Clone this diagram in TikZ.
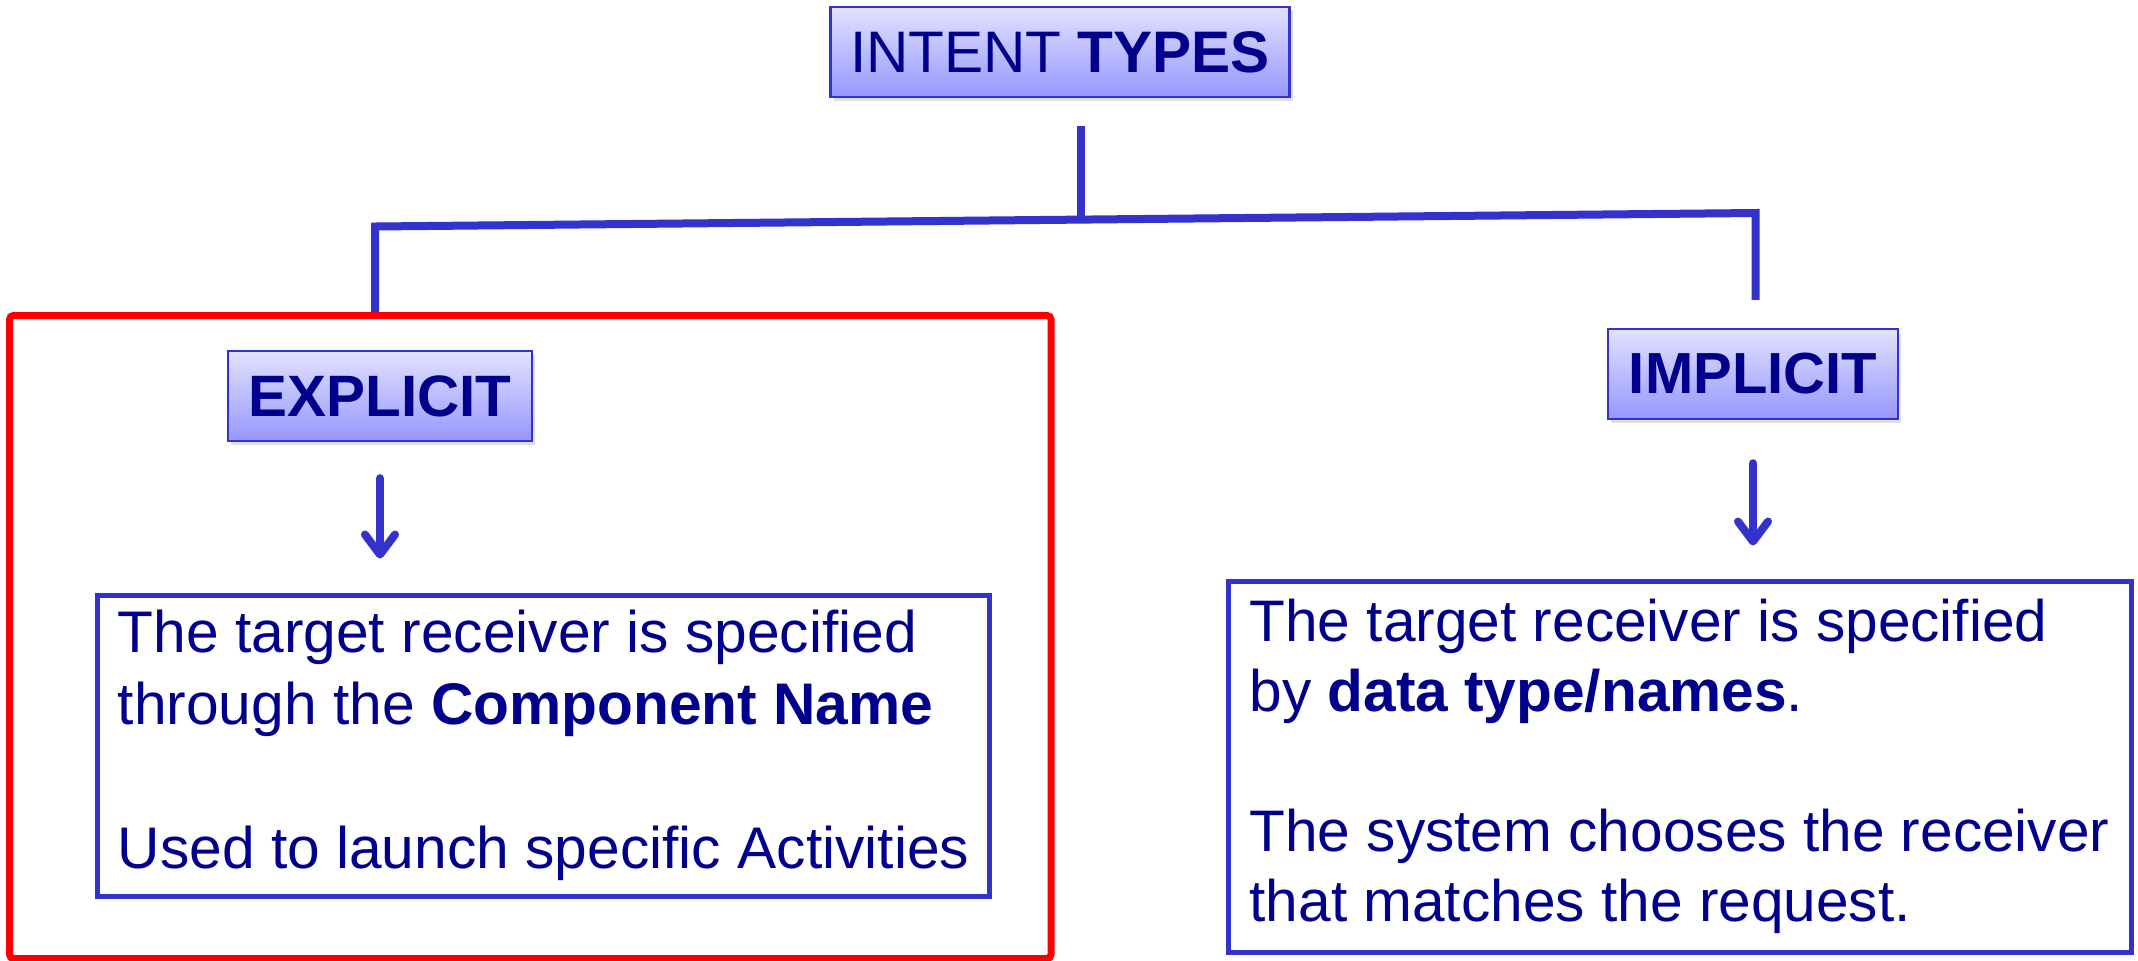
\documentclass[tikz,border=0pt]{standalone}
\usepackage{fontspec}
\setmainfont{Liberation Sans}
\usetikzlibrary{arrows.meta,shadows}
\definecolor{inknavy}{RGB}{0,0,140}
\definecolor{linkblue}{RGB}{51,51,204}
\definecolor{boxtop}{RGB}{226,226,255}
\definecolor{boxbottom}{RGB}{150,150,255}
\definecolor{framered}{RGB}{255,0,0}
\begin{document}
\begin{tikzpicture}[x=0.5pt,y=-0.5pt,
    typebox/.style={draw=linkblue,line width=1.2pt,top color=boxtop,bottom color=boxbottom,
        text=inknavy,font=\fontsize{29.3}{36}\selectfont,minimum height=45pt,inner sep=0pt,
        drop shadow={shadow xshift=1.5pt,shadow yshift=-2pt,opacity=0.25}},
    textbox/.style={draw=linkblue,line width=2.5pt,text=inknavy,align=left,inner sep=0pt},
    treeline/.style={draw=linkblue,line width=4pt},
    downarrow/.style={draw=linkblue,line width=4pt,line cap=round,
        -{Straight Barb[length=10pt,width=15pt,line width=4pt,line cap=round,line join=round]}}]
    \useasboundingbox (0,0) rectangle (2138,960);
    % frame round the explicit branch
    \node [draw=framered,line width=3.5pt,rounded corners=2pt,inner sep=0pt,
        minimum width=520.75pt,minimum height=321.5pt] (explicitframe) at (530.25,637) {};
    % headings
    \node [typebox,minimum width=229.5pt] (title) at (1060,52) {INTENT \textbf{TYPES}};
    \node [typebox,minimum width=152pt,font=\fontsize{29.2}{36}\selectfont\bfseries] (explicit) at (380,396) {EXPLICIT};
    \node [typebox,minimum width=145pt,font=\fontsize{29}{36}\selectfont\bfseries] (implicit) at (1753,374) {IMPLICIT};
    % descriptions
    \node [textbox,minimum width=446pt,minimum height=150.5pt,font=\fontsize{29.35}{36}\selectfont] (exptext) at (543.5,745.5)
        {The target receiver is specified\\ through the \textbf{Component Name}\\[36pt] Used to launch specific Activities};
    \node [textbox,minimum width=451.5pt,minimum height=185.5pt,font=\fontsize{29.3}{35}\selectfont] (imptext) at (1679.5,766.5)
        {The target receiver is specified\\ by \textbf{data type/names}.\\[35pt] The system chooses the receiver\\ that matches the request.};
    % tree
    \coordinate (leftknee) at (375,226.5);
    \coordinate (rightknee) at (1755.5,213);
    \coordinate (stemfoot) at (1081,219.5);
    \draw [treeline,shorten <=14pt] (title.south -| stemfoot) -- (stemfoot);
    \draw [treeline] (leftknee |- explicitframe.north) -- (leftknee) -- (rightknee)
        -- ([yshift=14pt]rightknee |- implicit.north);
    \draw [downarrow,shorten <=18pt,shorten >=17pt] (explicit) -- (explicit |- exptext.north);
    \draw [downarrow,shorten <=21.5pt,shorten >=16.5pt] (implicit) -- (implicit |- imptext.north);
\end{tikzpicture}
\end{document}
